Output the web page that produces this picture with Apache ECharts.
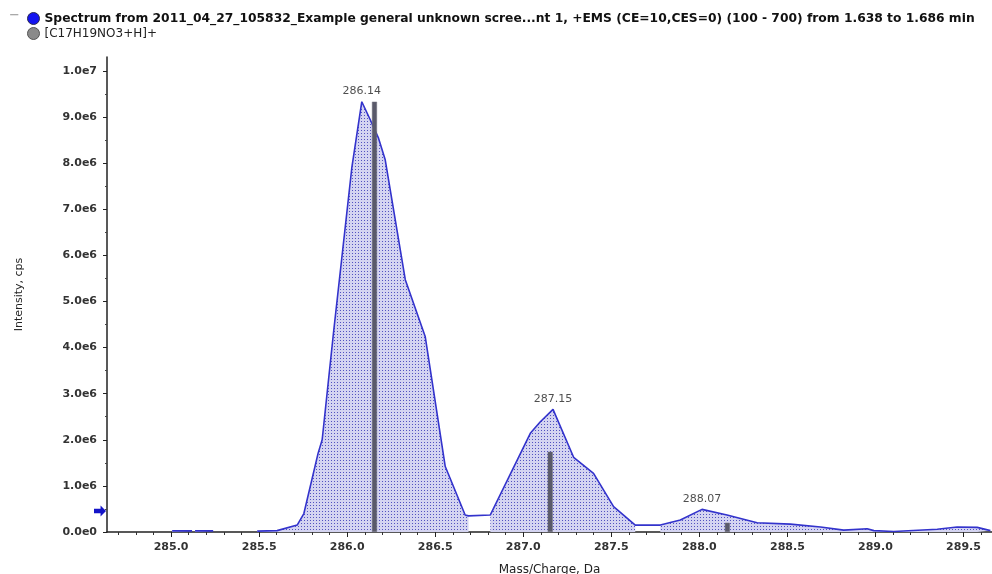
<!DOCTYPE html>
<html><head><meta charset="utf-8">
<script src="https://cdn.jsdelivr.net/npm/echarts@6/dist/echarts.min.js"></script>
<style>html,body{margin:0;padding:0;background:#fff}#c{width:992px;height:574px}</style>
</head><body><div id="c"></div>
<script>
// ---------- data ----------
const spectrumName = 'Spectrum from 2011_04_27_105832_Example general unknown scree...nt 1, +EMS (CE=10,CES=0) (100 - 700) from 1.638 to 1.686 min';
const ionName = '[C17H19NO3+H]+';

const profileMz = [285.006, 285.119, 285.127, 285.136, 285.239, 285.36, 285.489, 285.602, 285.716, 285.754, 285.835, 285.858, 285.922, 286.027, 286.083, 286.131, 286.178, 286.216, 286.330, 286.443, 286.557, 286.670, 286.689, 286.813, 287.040, 287.097, 287.169, 287.286, 287.399, 287.513, 287.636, 287.778, 287.892, 288.015, 288.157, 288.328, 288.517, 288.688, 288.820, 288.953, 288.991, 289.104, 289.351, 289.464, 289.578, 289.653];
const profileInt = [0.025e6, 0.025e6, null, 0.025e6, 0.025e6, null, 0.02e6, 0.03e6, 0.15e6, 0.40e6, 1.71e6, 2.00e6, 4.31e6, 7.92e6, 9.33e6, 8.94e6, 8.54e6, 8.07e6, 5.47e6, 4.24e6, 1.42e6, 0.37e6, 0.35e6, 0.37e6, 2.14e6, 2.39e6, 2.66e6, 1.62e6, 1.27e6, 0.55e6, 0.15e6, 0.15e6, 0.26e6, 0.49e6, 0.37e6, 0.20e6, 0.17e6, 0.11e6, 0.04e6, 0.07e6, 0.03e6, 0.01e6, 0.06e6, 0.11e6, 0.10e6, 0.03e6];
const fillBreakAfter = [285.239, 286.689, 287.636];

const stickMz = [286.155, 287.153, 288.159];
const stickInt = [9.33e6, 1.74e6, 0.20e6];

const peakLabelMz = [286.083, 287.169, 288.015];
const peakLabelInt = [9.33e6, 2.66e6, 0.49e6];
const peakLabelText = ['286.14', '287.15', '288.07'];

const xTickValues = [285.0, 285.5, 286.0, 286.5, 287.0, 287.5, 288.0, 288.5, 289.0, 289.5];
const xMinorTickValues = [284.7, 284.8, 284.9, 285.1, 285.2, 285.3, 285.4, 285.6, 285.7, 285.8, 285.9, 286.1, 286.2, 286.3, 286.4, 286.6, 286.7, 286.8, 286.9, 287.1, 287.2, 287.3, 287.4, 287.6, 287.7, 287.8, 287.9, 288.1, 288.2, 288.3, 288.4, 288.6, 288.7, 288.8, 288.9, 289.1, 289.2, 289.3, 289.4, 289.6];
const yTickValues = [0, 1e6, 2e6, 3e6, 4e6, 5e6, 6e6, 7e6, 8e6, 9e6, 1e7];
const yMinorTickValues = [0.5e6, 1.5e6, 2.5e6, 3.5e6, 4.5e6, 5.5e6, 6.5e6, 7.5e6, 8.5e6, 9.5e6];
const thresholdInt = 0.455e6;

const xMin = 284.636, xMax = 289.662, yMax = 1.03e7;

// ---------- build ----------
const lineData = profileMz.map((m, i) => [m, profileInt[i]]);
const fillData = [];
profileMz.forEach((m, i) => {
  fillData.push([m, profileInt[i]]);
  if (fillBreakAfter.includes(m) && i + 1 < profileMz.length) {
    fillData.push([(m + profileMz[i + 1]) / 2, null]);
  }
});
const stickData = stickMz.map((m, i) => [m, stickInt[i]]);
const labelData = peakLabelMz.map((m, i) => [m, peakLabelInt[i]]);

const pc = document.createElement('canvas');
pc.width = 3; pc.height = 3;
const g = pc.getContext('2d');
g.fillStyle = '#d4d4f1'; g.fillRect(0, 0, 3, 3);
g.fillStyle = '#5252c0'; g.fillRect(1, 1, 1, 1);

const FONT = 'DejaVu Sans';
const fmtY = v => v.toExponential(1).replace('+', '');

const chart = echarts.init(document.getElementById('c'), null, { renderer: 'canvas' });
chart.setOption({
  animation: false,
  backgroundColor: '#fff',
  title: { text: '\u2212', left: 4, top: 4, textStyle: { color: '#999', fontSize: 13, fontWeight: 'normal', fontFamily: FONT } },
  legend: {
    orient: 'vertical', left: 22, top: 7, itemWidth: 12, itemHeight: 12, itemGap: 2,
    data: [
      { name: spectrumName, icon: 'circle', itemStyle: { color: '#1414f0', borderColor: '#2a2a50', borderWidth: 1 },
        textStyle: { fontWeight: 'bold', fontSize: 12.3, color: '#111', fontFamily: FONT } },
      { name: ionName, icon: 'circle', itemStyle: { color: '#8a8a8a', borderColor: '#555', borderWidth: 1 },
        textStyle: { fontWeight: 'normal', fontSize: 12, color: '#222', fontFamily: FONT } }
    ],
    textStyle: { fontFamily: FONT, fontSize: 12, color: '#111' },
    selectedMode: false
  },
  grid: { left: 107, right: 0, top: 57, bottom: 42, containLabel: false, outerBoundsMode: 'none' },
  xAxis: [{
    type: 'value', min: xMin, max: xMax,
    name: 'Mass/Charge, Da', nameLocation: 'middle', nameGap: 32,
    nameTextStyle: { fontFamily: FONT, fontSize: 12, color: '#222' },
    axisLine: { lineStyle: { color: '#222', width: 1.5 } },
    axisTick: { customValues: xTickValues, length: 5, lineStyle: { color: '#222' } },
    axisLabel: { customValues: xTickValues, formatter: v => v.toFixed(1), margin: 10,
      fontFamily: FONT, fontSize: 11, fontWeight: 'bold', color: '#333' },
    splitLine: { show: false }
  }, {
    type: 'value', min: xMin, max: xMax, position: 'bottom',
    axisLine: { show: false },
    axisTick: { customValues: xMinorTickValues, length: 3, lineStyle: { color: '#333' } },
    axisLabel: { show: false }, splitLine: { show: false }
  }],
  yAxis: [{
    type: 'value', min: 0, max: yMax,
    name: 'Intensity, cps', nameLocation: 'middle', nameGap: 82,
    nameTextStyle: { fontFamily: FONT, fontSize: 11, color: '#222' },
    axisLine: { show: true, lineStyle: { color: '#222', width: 1.5 } },
    axisTick: { show: true, customValues: yTickValues, length: 4, lineStyle: { color: '#222' } },
    axisLabel: { customValues: yTickValues, formatter: fmtY, margin: 10,
      fontFamily: FONT, fontSize: 11, fontWeight: 'bold', color: '#333' },
    splitLine: { show: false }
  }, {
    type: 'value', min: 0, max: yMax, position: 'left',
    axisLine: { show: false },
    axisTick: { show: true, customValues: yMinorTickValues, length: 2, lineStyle: { color: '#444' } },
    axisLabel: { show: false }, splitLine: { show: false }
  }],
  series: [
    {
      name: spectrumName + ' fill', type: 'line', data: fillData, showSymbol: false, symbol: 'none',
      lineStyle: { width: 0, opacity: 0 }, areaStyle: { color: { image: pc, repeat: 'repeat' }, opacity: 1 },
      connectNulls: false, z: 1, silent: true
    },
    {
      name: spectrumName, type: 'line', data: lineData, showSymbol: false, symbol: 'none',
      color: '#1414f0',
      lineStyle: { color: '#3333cc', width: 1.6 }, connectNulls: false, z: 3, silent: true,
      markPoint: {
        silent: true, label: { show: false },
        data: [{ coord: [xMin, thresholdInt], symbol: 'path://M0,3 L6,3 L6,0 L11,5 L6,10 L6,7 L0,7 Z',
          symbolSize: [12, 11], symbolOffset: [-7, 0], itemStyle: { color: '#1414c8' } }]
      }
    },
    {
      name: ionName, type: 'bar', data: stickData, barWidth: 5, z: 4,
      itemStyle: { color: '#5a5a6a', borderColor: '#6f6f7a', borderWidth: 0.5 }, silent: true
    },
    {
      name: 'labels', type: 'scatter', data: labelData, symbolSize: 0, z: 5, silent: true,
      label: { show: true, position: 'top', distance: 5, formatter: p => peakLabelText[p.dataIndex],
        fontFamily: FONT, fontSize: 11, color: '#222' }
    }
  ]
});
</script></body></html>
